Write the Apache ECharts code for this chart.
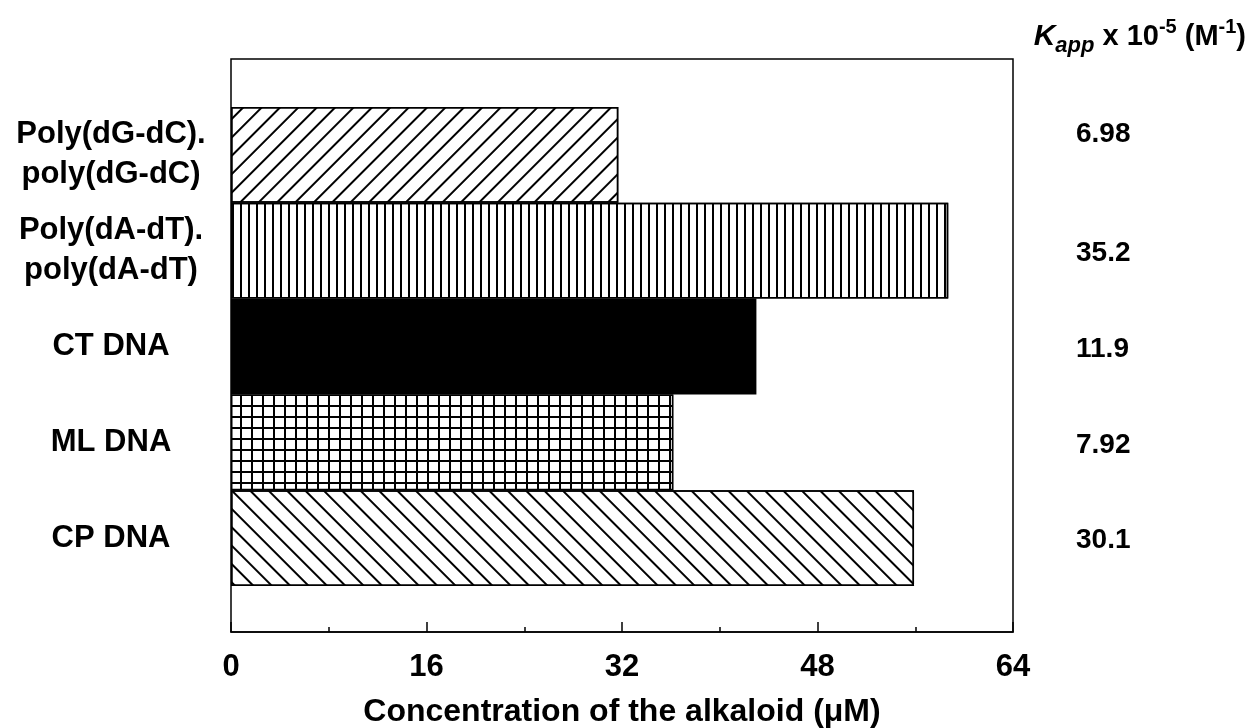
<!DOCTYPE html>
<html>
<head>
<meta charset="utf-8">
<script src="https://cdn.jsdelivr.net/npm/echarts@6/dist/echarts.min.js"></script>
<style>
html,body{margin:0;padding:0;background:#fff;}
#chart{width:1257px;height:728px;}
</style>
</head>
<body>
<div id="chart"></div>
<script>
var categories = ['Poly(dG-dC).\npoly(dG-dC)', 'Poly(dA-dT).\npoly(dA-dT)', 'CT DNA', 'ML DNA', 'CP DNA'];
var concentrations = [31.7, 58.7, 43.0, 36.2, 55.9];
var kappValues = ['6.98', '35.2', '11.9', '7.92', '30.1'];
var xMin = 0, xMax = 64, xInterval = 16;
var xAxisTitle = 'Concentration of the alkaloid (\u03bcM)';

var FONT = 'Liberation Sans, Arial, Helvetica, sans-serif';

var barStyles = [
  {color: '#fff', decal: {symbol: 'rect', symbolSize: 1, color: '#000', dashArrayX: [1, 0], dashArrayY: [1.6, 11], rotation: -Math.PI / 4}},
  {color: '#fff', decal: {symbol: 'rect', symbolSize: 1, color: '#000', dashArrayX: [2, 5.8], dashArrayY: [1, 0], rotation: 0}},
  {color: '#000'},
  {color: '#000', decal: {symbol: 'rect', symbolSize: 1, color: '#fff', dashArrayX: [9, 2], dashArrayY: [9, 2], rotation: 0}},
  {color: '#fff', decal: {symbol: 'rect', symbolSize: 1, color: '#000', dashArrayX: [1, 0], dashArrayY: [1.6, 10.5], rotation: Math.PI / 4}}
];

var barData = concentrations.map(function (v, i) {
  var s = barStyles[i];
  var it = {color: s.color, borderColor: '#000', borderWidth: 1.5};
  if (s.decal) it.decal = s.decal;
  return {value: v, itemStyle: it};
});

var chart = echarts.init(document.getElementById('chart'), null, {renderer: 'canvas'});
chart.setOption({
  animation: false,
  backgroundColor: '#fff',
  title: [
    {
      text: '{k|K}{sub|app}{n| x 10}{sup|-5}{n| (M}{sup|-1}{n|)}',
      right: 6, top: 12,
      textStyle: {
        rich: {
          k: {fontFamily: FONT, fontSize: 30, fontWeight: 'bold', fontStyle: 'italic', color: '#000'},
          sub: {fontFamily: FONT, fontSize: 22, fontWeight: 'bold', fontStyle: 'italic', color: '#000', padding: [18, 0, 0, 0]},
          n: {fontFamily: FONT, fontSize: 29, fontWeight: 'bold', color: '#000'},
          sup: {fontFamily: FONT, fontSize: 20, fontWeight: 'bold', color: '#000', padding: [0, 0, 20, 0]}
        }
      }
    }
  ],
  grid: [
    {left: 231, right: 244, top: 59, bottom: 96, show: true, borderColor: '#000', borderWidth: 1.5, backgroundColor: 'transparent', containLabel: false, outerBoundsMode: 'none'},
    {left: 231, right: 244, top: 107, bottom: 142, containLabel: false, outerBoundsMode: 'none'}
  ],
  xAxis: [
    {
      gridIndex: 0, type: 'value', min: xMin, max: xMax, interval: xInterval,
      name: xAxisTitle, nameLocation: 'middle', nameGap: 64,
      nameTextStyle: {fontFamily: FONT, fontSize: 32, fontWeight: 'bold', color: '#000'},
      axisLine: {show: true, lineStyle: {color: '#000', width: 1.5}},
      axisTick: {show: true, inside: true, length: 10, lineStyle: {color: '#000', width: 1.5}},
      minorTick: {show: true, splitNumber: 2, length: 5, lineStyle: {color: '#000', width: 1.5}},
      splitLine: {show: false},
      axisLabel: {fontFamily: FONT, fontSize: 31, fontWeight: 'bold', color: '#000', margin: 20}
    },
    {
      gridIndex: 1, type: 'value', min: xMin, max: xMax, interval: xInterval, show: false
    }
  ],
  yAxis: [
    {gridIndex: 0, type: 'value', show: false, min: 0, max: 1},
    {
      gridIndex: 1, type: 'category', data: categories, inverse: true,
      axisLine: {show: false}, axisTick: {show: false},
      axisLabel: {fontFamily: FONT, fontSize: 31, fontWeight: 'bold', color: '#000', align: 'center', margin: 120, lineHeight: 40}
    },
    {
      gridIndex: 1, type: 'category', data: categories, inverse: true, position: 'right',
      axisLine: {show: false}, axisTick: {show: false},
      axisLabel: {
        fontFamily: FONT, fontSize: 28, fontWeight: 'bold', color: '#000', align: 'left', margin: 63,
        formatter: function (v, i) { return i === 0 ? '{up|' + kappValues[i] + '}' : '{d|' + kappValues[i] + '}'; },
        rich: {
          up: {fontFamily: FONT, fontSize: 28, fontWeight: 'bold', color: '#000', padding: [0, 0, 42, 0]},
          d: {fontFamily: FONT, fontSize: 28, fontWeight: 'bold', color: '#000', padding: [5, 0, 0, 0]}
        }
      }
    }
  ],
  series: [
    {
      type: 'bar', xAxisIndex: 1, yAxisIndex: 1, data: barData,
      barWidth: '100%', barCategoryGap: 0, silent: true
    }
  ]
});
</script>
</body>
</html>
